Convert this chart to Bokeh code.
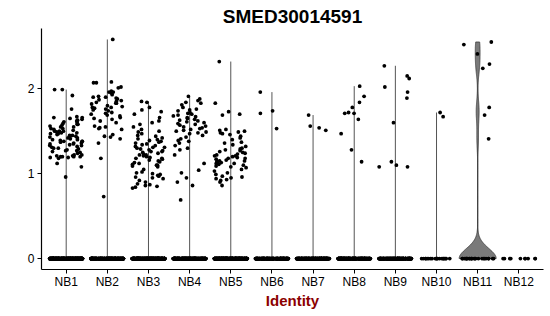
import numpy as np
from bokeh.plotting import figure
from bokeh.models import ColumnDataSource, FixedTicker, Range1d
from bokeh.transform import jitter
from bokeh.embed import file_html
from bokeh.resources import INLINE

# ---------------- data ----------------
categories = ["NB1", "NB2", "NB3", "NB4", "NB5", "NB6",
              "NB7", "NB8", "NB9", "NB10", "NB11", "NB12"]
# number of cells with zero expression per identity
zero_counts = [400, 300, 350, 300, 350, 200, 250, 250, 200, 20, 24, 10]

# non-zero expression values per identity
nb1 = [1.99, 1.99, 1.92, 1.76, 1.67, 1.66, 1.64, 1.65, 1.63, 1.66, 1.62, 1.60, 1.58, 1.57,
       1.59, 1.58, 1.56, 1.55, 1.53, 1.52, 1.51, 1.50, 1.50, 1.49, 1.48, 1.50, 1.47, 1.46,
       1.45, 1.44, 1.45, 1.43, 1.42, 1.44, 1.41, 1.40, 1.39, 1.38, 1.38, 1.37, 1.36, 1.38,
       1.35, 1.34, 1.33, 1.32, 1.31, 1.33, 1.30, 1.29, 1.28, 1.27, 1.26, 1.27, 1.25, 1.24,
       1.22, 1.21, 1.20, 1.20, 1.20, 1.19, 1.21, 1.22, 1.20, 1.19, 1.18, 1.12, 1.08, 0.96,
       1.42, 1.47, 1.36, 1.53, 1.61, 1.30, 1.40, 1.55, 1.35, 1.48]
nb2 = [2.58, 2.07, 2.07, 2.08, 2.02, 2.01, 1.97, 1.96, 1.95, 1.96, 1.93, 1.91, 1.90, 1.89,
       1.88, 1.87, 1.90, 1.86, 1.85, 1.84, 1.83, 1.82, 1.83, 1.80, 1.79, 1.78, 1.77, 1.76,
       1.78, 1.75, 1.74, 1.72, 1.70, 1.69, 1.68, 1.66, 1.65, 1.62, 1.60, 1.56, 1.55, 1.54,
       1.53, 1.52, 1.46, 1.44, 1.43, 1.41, 1.36, 1.18, 0.73, 1.71, 1.64]
nb3 = [1.84, 1.85, 1.78, 1.75, 1.73, 1.70, 1.66, 1.62, 1.60, 1.58, 1.55, 1.52, 1.50, 1.49,
       1.47, 1.45, 1.42, 1.41, 1.40, 1.39, 1.38, 1.37, 1.36, 1.35, 1.34, 1.33, 1.32, 1.31,
       1.30, 1.29, 1.28, 1.27, 1.26, 1.25, 1.24, 1.23, 1.22, 1.22, 1.21, 1.20, 1.19, 1.18,
       1.17, 1.16, 1.15, 1.14, 1.13, 1.12, 1.11, 1.10, 1.10, 1.09, 1.08, 1.05, 1.02, 1.01,
       1.00, 0.99, 0.98, 0.97, 0.96, 0.95, 0.94, 0.92, 0.90, 0.88, 0.87, 0.86, 0.85, 0.84,
       0.83, 1.26, 1.31, 1.44, 1.18]
nb4 = [1.91, 1.88, 1.86, 1.84, 1.83, 1.81, 1.78, 1.76, 1.75, 1.74, 1.72, 1.71, 1.70, 1.69,
       1.68, 1.66, 1.65, 1.64, 1.62, 1.61, 1.60, 1.59, 1.58, 1.57, 1.56, 1.55, 1.54, 1.53,
       1.52, 1.50, 1.49, 1.48, 1.47, 1.45, 1.43, 1.41, 1.39, 1.38, 1.36, 1.33, 1.30, 1.28,
       1.22, 1.12, 1.04, 1.01, 0.95, 0.90, 0.86, 0.69, 1.63, 1.67, 1.51]
nb5 = [2.32, 1.83, 1.73, 1.70, 1.69, 1.52, 1.51, 1.50, 1.49, 1.48, 1.47, 1.46, 1.44, 1.42,
       1.40, 1.37, 1.34, 1.32, 1.30, 1.29, 1.28, 1.27, 1.26, 1.25, 1.24, 1.23, 1.22, 1.21,
       1.20, 1.19, 1.18, 1.17, 1.16, 1.15, 1.15, 1.14, 1.13, 1.12, 1.12, 1.11, 1.10, 1.09,
       1.08, 1.07, 1.05, 1.03, 1.01, 0.99, 0.97, 0.96, 0.95, 0.94, 0.93, 0.92, 0.90, 0.86,
       1.18, 1.36, 1.21, 1.13]
nb6 = [1.74, 1.71, 1.96, 1.53]
nb7 = [1.51, 1.54, 1.69, 1.56]
nb8 = [1.47, 1.71, 1.64, 1.91, 1.84, 1.28, 1.71, 2.03, 1.78, 1.72, 1.14]
nb9 = [2.27, 1.14, 1.08, 1.89, 1.96, 2.12, 1.08, 1.10, 2.15, 2.02, 1.60]
nb10 = [1.67, 1.72]
nb11 = [2.55, 2.52, 2.41, 2.29, 2.24, 1.78, 1.69, 1.41]
nb12 = []

nonzero = [nb1, nb2, nb3, nb4, nb5, nb6, nb7, nb8, nb9, nb10, nb11, nb12]

# ---------------- build sources ----------------
xs, ys = [], []
for i, (zc, vals) in enumerate(zip(zero_counts, nonzero)):
    pos = i + 1
    xs += [pos] * zc + [pos] * len(vals)
    ys += [0.0] * zc + list(vals)
pts = ColumnDataSource(dict(x=xs, y=ys))

positions = list(range(1, len(categories) + 1))
maxima = [max(v) if len(v) else 0.0 for v in nonzero]
seg = ColumnDataSource(dict(x=positions, y0=[0.0] * len(positions), y1=maxima))

# violin for NB11 (gaussian kde, bw.nrd0, trimmed, scaled to width 0.9)
k = categories.index("NB11")
vdata = np.array([0.0] * zero_counts[k] + nonzero[k])
q1, q3 = np.percentile(vdata, [25, 75])
lo = min(vdata.std(ddof=1), (q3 - q1) / 1.34)
bw = 0.9 * lo * len(vdata) ** -0.2
grid = np.linspace(vdata.min(), vdata.max(), 512)
dens = np.exp(-0.5 * ((grid[:, None] - vdata[None, :]) / bw) ** 2).sum(axis=1)
half = dens / dens.max() * 0.45
vx = np.concatenate([(k + 1) - half, ((k + 1) + half)[::-1]])
vy = np.concatenate([grid, grid[::-1]])

# ---------------- figure ----------------
FONT = "Liberation Sans"
p = figure(width=550, height=316, output_backend="svg", toolbar_location=None,
           x_range=Range1d(0.4, 12.6), y_range=Range1d(-0.129, 2.709),
           min_border_left=41, min_border_right=7, min_border_top=28,
           min_border_bottom=47)
p.background_fill_color = "white"
p.border_fill_color = "white"
p.outline_line_color = None
p.grid.visible = False

p.title.text = "SMED30014591"
p.title.align = "center"
p.title.text_font = FONT
p.title.text_font_size = "19px"
p.title.text_font_style = "bold"
p.title.text_color = "black"
p.title.standoff = 4

p.segment(x0="x", y0="y0", x1="x", y1="y1", source=seg,
          line_color="#555555", line_width=1)
p.patch(vx, vy, fill_color="#7a7a7a", line_color="#3a3a3a", line_width=0.8)

p.scatter(x=jitter("x", width=0.8, distribution="uniform"), y="y", source=pts,
          size=3.8, fill_color="black", line_color="black", line_width=0)

for ax in (p.xaxis[0], p.yaxis[0]):
    ax.axis_line_color = "black"
    ax.axis_line_width = 1.2
    ax.major_tick_line_color = "black"
    ax.major_tick_line_width = 1
    ax.major_tick_out = 4
    ax.major_tick_in = 0
    ax.minor_tick_line_color = None
    ax.major_label_text_font = FONT
    ax.major_label_text_font_size = "12px"
    ax.major_label_text_color = "black"
    ax.major_label_standoff = 3

p.xaxis.major_label_standoff = 1
p.xaxis.ticker = FixedTicker(ticks=positions)
p.xaxis.major_label_overrides = {pos: c for pos, c in zip(positions, categories)}
p.yaxis.ticker = FixedTicker(ticks=[0, 1, 2])

p.xaxis.axis_label = "Identity"
p.xaxis.axis_label_text_font = FONT
p.xaxis.axis_label_text_font_size = "15px"
p.xaxis.axis_label_text_font_style = "bold"
p.xaxis.axis_label_text_color = "#8B0000"
p.xaxis.axis_label_standoff = 0

open("out.html", "w").write(file_html(p, INLINE))
